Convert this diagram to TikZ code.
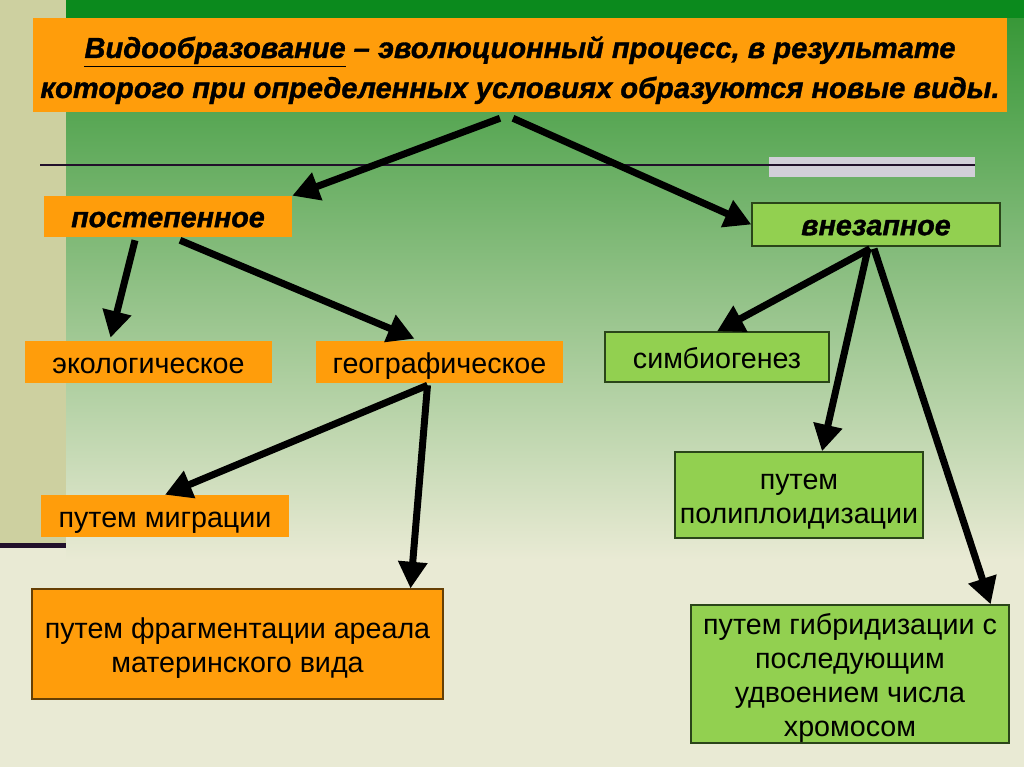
\documentclass[tikz,border=0pt]{standalone}
\usepackage{fontspec}
\setmainfont{Liberation Sans}
\newfontfamily\heavyfont{Liberation Sans}[FakeBold=1.2]
\usetikzlibrary{positioning, calc, arrows.meta}
\definecolor{boxorange}{HTML}{FF9D0B}
\definecolor{boxgreen}{HTML}{92D050}
\definecolor{boxedge}{HTML}{2A4519}
\definecolor{topgreen}{HTML}{0B8A1D}
\definecolor{midgreen}{HTML}{389838}
\definecolor{lowgreen}{HTML}{74B46C}
\definecolor{paleback}{HTML}{E9EAD4}
\definecolor{stripolive}{HTML}{CDD0A0}
\definecolor{bandgray}{HTML}{D2CFD8}
\definecolor{darkline}{HTML}{21102A}

\begin{document}
\begin{tikzpicture}[x=0.75pt, y=-0.75pt,
    arr/.style={line width=5.25pt, -{Triangle[length=20pt,width=21pt]}},
    orangebox/.style={fill=boxorange, inner sep=0pt, align=center},
    greenbox/.style={fill=boxgreen, draw=boxedge, line width=1pt, inner sep=0pt, align=center},
    headtext/.style={font=\fontsize{21.5}{25}\selectfont\heavyfont\bfseries\itshape,
                     text height=16pt, text depth=0pt},
    plaintext/.style={font=\fontsize{21.5}{25.5}\selectfont, text height=16.5pt, text depth=0pt}]

    % --- Background ---
    \useasboundingbox (0,0) rectangle (1024,767);
    \fill[paleback] (0,0) rectangle (1024,767);
    \shade[top color=midgreen, middle color=lowgreen, bottom color=paleback] (66,18) rectangle (1024,560);
    \fill[topgreen] (66,0) rectangle (1024,18);
    \fill[stripolive] (0,0) rectangle (66,545);
    \fill[darkline] (0,543) rectangle (66,548);

    % --- Divider with grey band ---
    \fill[bandgray] (769,157) rectangle (975,177);
    \draw[darkline, line width=1.5pt] (40,165) -- (975,165);

    % --- Definition ---
    \node[orangebox, minimum width=730.5pt, minimum height=70.5pt,
          font=\fontsize{21.8}{30}\selectfont\heavyfont\bfseries\itshape,
          text height=51.5pt, text depth=2pt] (title) at (520,65)
        {\underline{Видообразование} – эволюционный процесс, в результате\\
         которого при определенных условиях образуются новые виды.};

    % --- Two kinds ---
    \node[orangebox, headtext, minimum width=186pt, minimum height=30.75pt] (slow) at (168,216.5) {постепенное};
    \node[greenbox, headtext, minimum width=186pt, minimum height=32.25pt] (sudden) at (876,224.5) {внезапное};

    % --- Gradual branch ---
    \node[orangebox, plaintext, minimum width=185.25pt, minimum height=31.5pt] (eco) at (148.5,362) {экологическое};
    \node[orangebox, plaintext, minimum width=185.25pt, minimum height=31.5pt] (geo) at (439.5,362) {географическое};
    \node[orangebox, plaintext, minimum width=186pt, minimum height=31.5pt] (migr) at (165,516) {путем миграции};
    \node[orangebox, plaintext, draw=boxorange!40!black, line width=0.8pt, text height=42pt,
          minimum width=308.25pt, minimum height=82.5pt] (frag) at (237.5,644)
        {путем фрагментации ареала\\ материнского вида};

    % --- Sudden branch ---
    \node[greenbox, plaintext, minimum width=168pt, minimum height=37.5pt] (symb) at (717,357) {симбиогенез};
    \node[greenbox, plaintext, text height=42pt, minimum width=186pt, minimum height=64.5pt] (poly) at (799,495)
        {путем\\ полиплоидизации};
    \node[greenbox, plaintext, text height=93pt, minimum width=238.5pt, minimum height=103.5pt] (hybr) at (850,674)
        {путем гибридизации с\\ последующим\\ удвоением числа\\ хромосом};

    % --- Arrows ---
    \draw[arr] ($(title.south)+(-20,6)$) -- (slow.north east);
    \draw[arr] ($(title.south)+(-7,6)$) -- (sudden.west);

    \draw[arr] ($(slow.south)+(-33,3)$) -- ($(eco.north)+(-38,-3)$);
    \draw[arr] ($(slow.south)+(12,3)$) -- ($(geo.north)+(-25,-2)$);

    \draw[arr] ($(geo.south)+(-12,2)$) -- (migr.north);
    \draw[arr] ($(geo.south)+(-12,2)$) -- ($(frag.north east)+(-33,0)$);

    \draw[arr] ($(sudden.south)+(-6,2)$) -- (symb.north);
    \draw[arr] ($(sudden.south)+(-8,2)$) -- ($(poly.north)+(23,0)$);
    \draw[arr] ($(sudden.south)+(-2,2)$) -- ($(hybr.north east)+(-19,0)$);

\end{tikzpicture}
\end{document}
